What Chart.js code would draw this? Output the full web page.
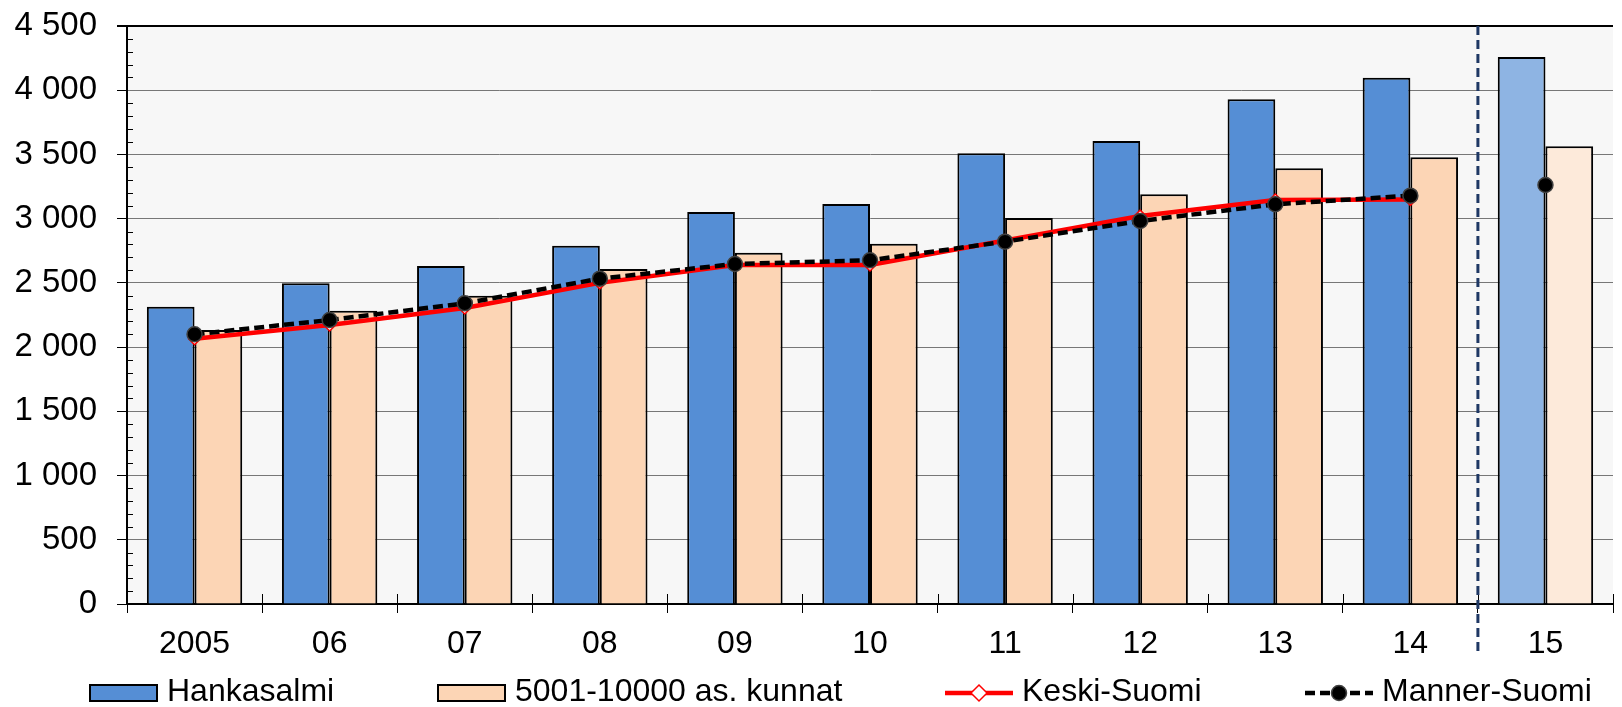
<!DOCTYPE html>
<html>
<head>
<meta charset="utf-8">
<script src="https://cdn.jsdelivr.net/npm/chart.js@4"></script>
<style>
  body { margin: 0; background: #fff; }
  canvas { display: block; }
</style>
</head>
<body>
<canvas id="chart" width="1622" height="707"></canvas>
<script>
var years = ["2005", "06", "07", "08", "09", "10", "11", "12", "13", "14", "15"];
var hankasalmi = [2315, 2497, 2632, 2790, 3052, 3114, 3509, 3605, 3929, 4098, 4259];
var kunnat = [2133, 2284, 2400, 2608, 2735, 2805, 3005, 3190, 3392, 3478, 3563];
var keskiSuomi = [2065, 2172, 2305, 2500, 2640, 2640, 2830, 3020, 3145, 3150, 3255];
var mannerSuomi = [2100, 2211, 2341, 2533, 2647, 2676, 2821, 2982, 3112, 3179, 3262];
var yTicks = [0, 500, 1000, 1500, 2000, 2500, 3000, 3500, 4000, 4500];

var FONT = "'Liberation Sans', Arial, sans-serif";
Chart.defaults.font.family = FONT;
Chart.defaults.font.size = 32;
Chart.defaults.color = "#000";

// last year (15) is drawn lighter
function shade(base, last) {
  return years.map(function (y, i) { return i === years.length - 1 ? last : base; });
}

// line break between 14 and 15
var gap = function (c) { return c.p0DataIndex === years.length - 2 ? "rgba(0,0,0,0)" : undefined; };

var plotDecor = {
  id: "plotDecor",
  beforeDraw: function (chart) {
    var a = chart.chartArea, ctx = chart.ctx;
    ctx.save();
    ctx.fillStyle = "#f7f7f7";
    ctx.fillRect(a.left, a.top, a.right - a.left, a.bottom - a.top);
    ctx.restore();
  },
  beforeDatasetsDraw: function (chart) {
    var a = chart.chartArea, ctx = chart.ctx, x = chart.scales.x, y = chart.scales.y;
    ctx.save();
    ctx.strokeStyle = "#000";
    ctx.lineWidth = 1;
    ctx.beginPath();
    for (var v = 100; v < 4500; v += 100) {
      if (v % 500 === 0) continue;
      var py = Math.round(y.getPixelForValue(v)) + 0.5;
      ctx.moveTo(a.left, py);
      ctx.lineTo(a.left + 6, py);
    }
    for (var i = 0; i <= years.length; i++) {
      var px = Math.round(x.getPixelForValue(i - 0.5)) + 0.5;
      ctx.moveTo(px, a.bottom - 10);
      ctx.lineTo(px, a.bottom);
    }
    ctx.stroke();
    ctx.lineWidth = 2;
    ctx.beginPath();
    ctx.moveTo(a.left - 10, a.top);
    ctx.lineTo(a.right, a.top);
    ctx.stroke();
    ctx.restore();
  },
  afterDatasetsDraw: function (chart) {
    var a = chart.chartArea, ctx = chart.ctx, x = chart.scales.x;
    var px = x.getPixelForValue(years.length - 1.5);
    ctx.save();
    ctx.strokeStyle = "#1f3864";
    ctx.lineWidth = 3;
    ctx.setLineDash([9, 5]);
    ctx.beginPath();
    ctx.moveTo(px, a.top);
    ctx.lineTo(px, a.bottom + 48);
    ctx.stroke();
    ctx.restore();
  }
};

var legendX = [90, 438, 945, 1305];
var bottomLegend = {
  id: "bottomLegend",
  afterDraw: function (chart) {
    var ctx = chart.ctx, cy = 693;
    ctx.save();
    chart.data.datasets.forEach(function (ds, i) {
      var x0 = legendX[i];
      if (ds.type === "line") {
        ctx.strokeStyle = ds.borderColor;
        ctx.lineWidth = ds.borderWidth;
        ctx.setLineDash(ds.borderDash || []);
        ctx.beginPath();
        ctx.moveTo(x0, cy);
        ctx.lineTo(x0 + 68, cy);
        ctx.stroke();
        ctx.setLineDash([]);
        ctx.fillStyle = ds.pointBackgroundColor;
        ctx.strokeStyle = ds.pointBorderColor;
        ctx.lineWidth = ds.pointBorderWidth;
        ctx.beginPath();
        var r = ds.pointRadius;
        if (ds.pointStyle === "circle") {
          ctx.arc(x0 + 34, cy, r, 0, Math.PI * 2);
        } else {
          r = r + 2;
          ctx.moveTo(x0 + 34, cy - r); ctx.lineTo(x0 + 34 + r, cy);
          ctx.lineTo(x0 + 34, cy + r); ctx.lineTo(x0 + 34 - r, cy); ctx.closePath();
        }
        ctx.fill();
        ctx.stroke();
      } else {
        ctx.fillStyle = ds.backgroundColor[0];
        ctx.fillRect(x0, cy - 8, 67, 16);
        ctx.strokeStyle = "#000";
        ctx.lineWidth = 2;
        ctx.strokeRect(x0, cy - 8, 67, 16);
      }
      ctx.fillStyle = "#000";
      ctx.font = "32px " + FONT;
      ctx.textBaseline = "middle";
      ctx.fillText(ds.label, x0 + 77, cy - 1);
    });
    ctx.restore();
  }
};

new Chart(document.getElementById("chart"), {
  type: "bar",
  data: {
    labels: years,
    datasets: [
      {
        label: "Hankasalmi",
        data: hankasalmi,
        backgroundColor: shade("#558ed5", "#8eb4e3"),
        borderColor: "#000",
        borderWidth: 2,
        categoryPercentage: 0.706,
        barPercentage: 1,
        order: 2
      },
      {
        label: "5001-10000 as. kunnat",
        data: kunnat,
        backgroundColor: shade("#fcd5b5", "#fdeada"),
        borderColor: "#000",
        borderWidth: 2,
        categoryPercentage: 0.706,
        barPercentage: 1,
        order: 2
      },
      {
        type: "line",
        label: "Keski-Suomi",
        data: keskiSuomi,
        borderColor: "#ff0000",
        borderWidth: 4.5,
        pointStyle: "rectRot",
        pointRadius: 6,
        pointBackgroundColor: "#fff",
        pointBorderColor: "#ff0000",
        pointBorderWidth: 1.5,
        segment: { borderColor: gap },
        order: 1
      },
      {
        type: "line",
        label: "Manner-Suomi",
        data: mannerSuomi,
        borderColor: "#000",
        borderWidth: 4.5,
        borderDash: [10, 5],
        pointStyle: "circle",
        pointRadius: 7.5,
        pointBackgroundColor: "#000",
        pointBorderColor: "#404040",
        pointBorderWidth: 1.5,
        segment: { borderColor: gap },
        order: 0
      }
    ]
  },
  options: {
    responsive: false,
    animation: false,
    layout: { padding: { top: 26, right: 0, bottom: 45, left: 0 } },
    plugins: {
      legend: { display: false },
      tooltip: { enabled: false }
    },
    scales: {
      x: {
        grid: { drawOnChartArea: false, drawTicks: true, tickLength: 9, color: "#000" },
        border: { color: "#000", width: 2 },
        ticks: { padding: 12, maxRotation: 0 },
        afterFit: function (s) { s.height = 58; }
      },
      y: {
        min: 0,
        max: 4500,
        afterBuildTicks: function (s) { s.ticks = yTicks.map(function (v) { return { value: v }; }); },
        grid: {
          color: "#777",
          lineWidth: 1,
          borderDash: [2, 1],
          tickLength: 10,
          tickColor: "#000",
          tickBorderDash: []
        },
        border: { color: "#000", width: 2 },
        ticks: {
          padding: 20,
          font: { size: 33 },
          callback: function (v) { return String(v).replace(/\B(?=(\d{3})+(?!\d))/g, " "); }
        },
        afterFit: function (s) { s.width = 127; s.paddingTop = 0; s.paddingBottom = 0; }
      }
    }
  },
  plugins: [plotDecor, bottomLegend]
});
</script>
</body>
</html>
